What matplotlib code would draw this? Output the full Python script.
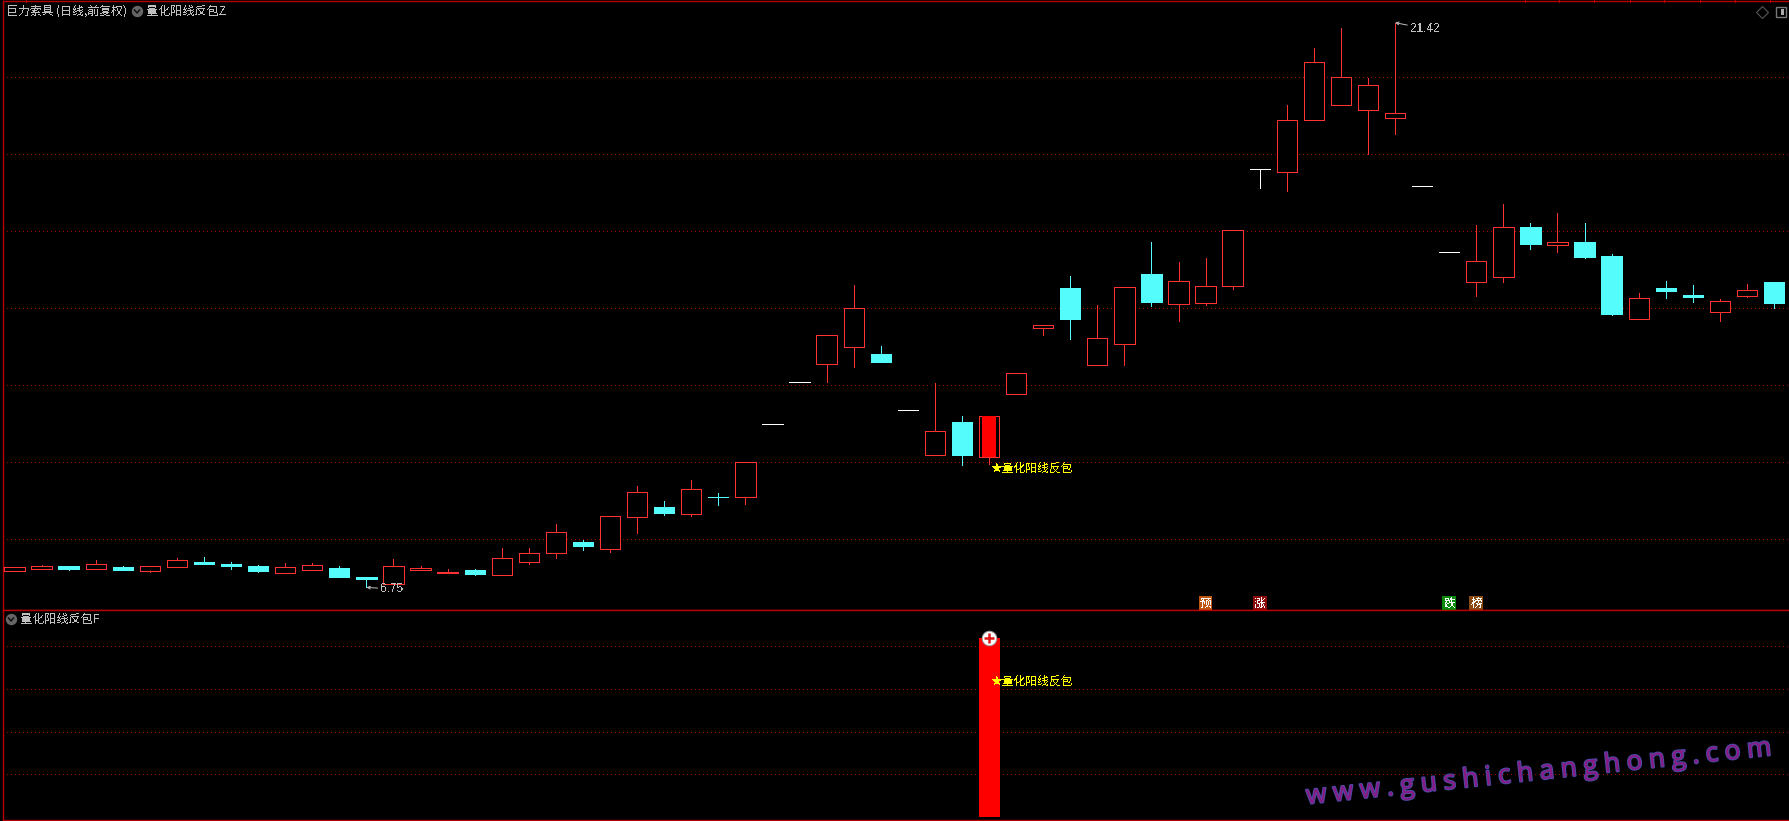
#!/usr/bin/python3

# daily candles with the signal pane below it, same layout as the trading software screen

import matplotlib
matplotlib.use('Agg')
import matplotlib.pyplot as plt
import matplotlib.patheffects as pe
from matplotlib.font_manager import FontProperties
from matplotlib.textpath import text_to_path
import numpy as np

opens = [7.17, 7.24, 7.31, 7.24, 7.28, 7.18, 7.29, 7.41, 7.36, 7.31, 7.13, 7.21, 7.25, 7.02,
         6.85, 7.19, 7.13, 7.20, 7.06, 7.42, 7.65, 7.93, 7.74, 8.59, 8.84, 8.67, 9.10, 9.11,
         10.99, 12.08, 12.56, 13.00, 12.81, 11.35, 10.20, 11.05, 10.15, 11.78, 13.50, 14.53,
         12.54, 13.08, 14.89, 14.12, 14.15, 14.59, 17.61, 17.55, 18.90, 19.29, 19.16, 18.95,
         17.17, 15.45, 14.69, 14.82, 16.11, 15.65, 15.72, 15.36, 13.73, 14.53, 14.35, 13.91,
         14.33, 14.68]
highs = [7.27, 7.33, 7.31, 7.46, 7.31, 7.30, 7.51, 7.54, 7.41, 7.33, 7.39, 7.39, 7.31, 7.02,
         7.49, 7.31, 7.23, 7.23, 7.77, 7.77, 8.41, 7.97, 8.60, 9.39, 9.00, 9.54, 9.20, 10.00,
         10.99, 12.08, 13.30, 14.61, 13.02, 11.35, 12.05, 11.20, 11.20, 12.31, 13.56, 14.84,
         14.09, 14.55, 15.72, 15.20, 15.31, 16.03, 17.61, 19.27, 20.76, 21.28, 19.98, 21.42,
         17.17, 15.45, 16.16, 16.71, 16.22, 16.48, 16.22, 15.41, 14.40, 14.71, 14.61, 14.23,
         14.63, 14.68]
lows = [7.17, 7.24, 7.20, 7.24, 7.19, 7.15, 7.29, 7.36, 7.24, 7.15, 7.13, 7.21, 7.02, 6.75,
        6.85, 7.19, 7.13, 7.07, 7.06, 7.37, 7.52, 7.71, 7.68, 8.17, 8.63, 8.61, 8.89, 8.92,
        10.99, 12.08, 12.09, 12.48, 12.60, 11.35, 10.20, 9.93, 9.96, 11.78, 13.31, 13.20,
        12.54, 12.53, 14.06, 13.67, 14.09, 14.51, 17.13, 17.05, 18.90, 19.29, 18.01, 18.53,
        17.17, 15.45, 14.32, 14.68, 15.54, 15.46, 15.31, 13.83, 13.73, 14.27, 14.16, 13.67,
        14.29, 14.01]
closes = [7.27, 7.30, 7.24, 7.35, 7.20, 7.30, 7.45, 7.36, 7.31, 7.18, 7.27, 7.32, 7.02, 6.97,
          7.30, 7.25, 7.16, 7.10, 7.51, 7.65, 8.18, 7.83, 8.60, 9.22, 8.68, 9.30, 9.09, 10.00,
          10.99, 12.08, 13.30, 14.00, 12.60, 11.35, 10.81, 10.19, 11.20, 12.31, 13.56, 13.72,
          13.22, 14.55, 14.16, 14.70, 14.57, 16.03, 17.61, 18.88, 20.39, 20.00, 19.79, 19.06,
          17.17, 15.45, 15.22, 16.10, 15.67, 15.71, 15.33, 13.85, 14.26, 14.45, 14.29, 14.18,
          14.47, 14.14]

price_grid = [8, 10, 12, 14, 16, 18, 20]
signal_grid = [0.25, 0.5, 0.75, 1.0]
signal_index = 36
signal_value = 1.05
low_index, low_price, low_label = 13, 6.75, '6.75'
high_index, high_price, high_label = 51, 21.42, '21.42'
tags = ['预', '涨', '跌', '榜']
tag_index = [44, 46, 53, 54]
tag_colors = ['#c05512', '#8c0a0a', '#0a8a0a', '#8a4a12']

stock_title = '巨力索具 (日线,前复权)'
top_title = '量化阳线反包Z'
bottom_title = '量化阳线反包F'
signal_label = '★量化阳线反包'
watermark = 'www.gushichanghong.com'

UP = '#ff3232'
DOWN = '#54fcfc'
FLAT = '#ffffff'
BORDER = '#b80000'
GRID = '#a80000'
TEXT = '#c0c0c0'
LINE = 0.72  # one pixel at 100 dpi

W, H = 1789, 821
# screen geometry, pixels
x0, dx = 14.5, 27.07
left = 2.5
top_y, split_y, bottom_y = 1.5, 610.3, 820.0
y8, per_unit = 539.3, 38.5

plt.rcParams['font.family'] = ['Noto Sans CJK SC', 'DejaVu Sans']
plt.rcParams['text.antialiased'] = False

fig = plt.figure(figsize=(W / 100, H / 100), dpi=100, facecolor='black')
ax = fig.add_axes([left / W, 1 - split_y / H, 1 - left / W, (split_y - top_y) / H])
ax2 = fig.add_axes([left / W, 1 - bottom_y / H, 1 - left / W, (bottom_y - split_y) / H])
page = fig.add_axes([0, 0, 1, 1], zorder=5)
page.set_xlim(0, W)
page.set_ylim(H, 0)
page.axis('off')

xlim = ((left - x0) / dx, (W - x0) / dx)
for a in (ax, ax2):
    a.set_facecolor('black')
    a.set_xlim(xlim)
    a.set_xticks([])
    a.set_yticks([])
    a.spines['right'].set_visible(False)
    for s in ('left', 'top', 'bottom'):
        a.spines[s].set_color(BORDER)
        a.spines[s].set_linewidth(1.0)
ax.set_ylim(8 + (y8 - split_y) / per_unit, 8 + (y8 - top_y) / per_unit)
ax2.set_ylim(-0.0176, 1.2109)

dots = (0, (1, 3))
for p in price_grid:
    ax.axhline(p, color=GRID, lw=LINE, ls=dots, zorder=1, antialiased=False)
for p in signal_grid:
    ax2.axhline(p, color=GRID, lw=LINE, ls=dots, zorder=1, antialiased=False)

xs = np.arange(len(opens))
opens_a, highs_a, lows_a, closes_a = map(np.array, (opens, highs, lows, closes))
is_up = closes_a > opens_a
is_down = closes_a < opens_a
is_flat = closes_a == opens_a

for mask, color in ((is_up, UP), (is_down, DOWN), (is_flat, FLAT)):
    ax.vlines(xs[mask], lows_a[mask], highs_a[mask], color=color, lw=LINE, zorder=2,
              antialiased=False)

body_width = 0.75
ax.bar(xs[is_up], closes_a[is_up] - opens_a[is_up], bottom=opens_a[is_up], width=body_width,
       facecolor='black', edgecolor=UP, lw=LINE, zorder=3, antialiased=False)
ax.bar(xs[is_down], opens_a[is_down] - closes_a[is_down], bottom=closes_a[is_down],
       width=body_width, facecolor=DOWN, edgecolor=DOWN, lw=LINE, zorder=3, antialiased=False)
ax.hlines(opens_a[is_flat], xs[is_flat] - body_width / 2, xs[is_flat] + body_width / 2,
          color=FLAT, lw=LINE, zorder=3, antialiased=False)

# signal stick in both panes
ax.bar([signal_index], [closes[signal_index] - opens[signal_index]],
       bottom=opens[signal_index], width=0.55, color='#ff0000', lw=0, zorder=4)
ax2.bar([signal_index], [signal_value], width=0.776, color='#ff0000', lw=0, zorder=3)
ax2.plot([signal_index], [signal_value], 'o', ms=10.5, mfc='white', mec='#999999', mew=0.7,
         zorder=5, clip_on=False)
ax2.plot([signal_index], [signal_value], '+', ms=7.5, mec='#e01818', mew=1.8, zorder=6)

ax.annotate(signal_label, xy=(signal_index, lows[signal_index]), xytext=(2, -4),
            textcoords='offset pixels', color='#ffff00', fontsize=8.5, va='center', zorder=6)
ax2.annotate(signal_label, xy=(signal_index, 0.75), xytext=(2, 8),
             textcoords='offset pixels', color='#ffff00', fontsize=8.5, va='center', zorder=6)

for label, i, p, off in ((low_label, low_index, low_price, (14, -1.5)),
                         (high_label, high_index, high_price, (15, -6))):
    ax.annotate(label, xy=(i, p), xytext=off, textcoords='offset pixels', color=TEXT,
                fontsize=8.5, family='Liberation Sans', va='center', zorder=6,
                arrowprops=dict(arrowstyle='->', color=TEXT, lw=0.7, mutation_scale=5,
                                shrinkA=0, shrinkB=0))

tag_price = 8 + (y8 - 603.5) / per_unit
for t, i, c in zip(tags, tag_index, tag_colors):
    ax.text(i, tag_price, t, color='white', fontsize=8.5, ha='center', va='center', zorder=6,
            bbox=dict(boxstyle='square,pad=0.08', facecolor=c, edgecolor='none'))

page.text(5.5, 11, stock_title, color=TEXT, fontsize=8.6, va='center')
page.text(146.5, 11, top_title, color=TEXT, fontsize=8.7, va='center')
page.text(20, 619, bottom_title, color=TEXT, fontsize=8.7, va='center')

# little round menu buttons
for cx, cy in ((137, 11), (11, 619)):
    page.plot([cx], [cy], 'o', ms=8.2, mfc='#666666', mec='none')
    page.plot([cx - 2.5, cx, cx + 2.5], [cy - 1, cy + 2, cy - 1], color='#111111', lw=1.1)
page.plot([1762], [12], 'D', ms=6.5, mfc='none', mec='#555555', mew=0.8)
page.add_patch(plt.Rectangle((1776, 7), 10, 10, fc='none', ec='#777777', lw=1.0))
page.add_patch(plt.Rectangle((1781, 9), 3, 6, fc='#aaaaaa', ec='none'))
# toolbar notches on the top border
page.vlines([26, 1525, 1559, 1594, 1630, 1664, 1700, 1735, 1770], 0, 2, color=BORDER, lw=LINE,
            antialiased=False)

# watermark runs along a slope, letters spread out one by one
prop = FontProperties(family='Open Sans', weight='normal', size=19)
start_x, start_y, end_x, end_y = 1307, 804, 1772, 755
angle = np.degrees(np.arctan2(start_y - end_y, end_x - start_x))
advance = [text_to_path.get_text_width_height_descent(c, prop, False)[0] * 100 / 72
           for c in watermark]
extra = (np.hypot(end_x - start_x, end_y - start_y) - sum(advance)) / (len(watermark) - 1)
pos = 0.0
ux, uy = np.cos(np.radians(angle)), -np.sin(np.radians(angle))
for c, adv in zip(watermark, advance):
    t = page.text(start_x + ux * pos, start_y + uy * pos, c, fontproperties=prop, color='#8a1a82',
                  rotation=angle, rotation_mode='anchor', ha='left', va='baseline',
                  antialiased=True)
    t.set_path_effects([pe.withStroke(linewidth=1.5, foreground='#4a4aa8')])
    pos += adv + extra

fig.savefig('out.png', dpi=100, facecolor='black')
